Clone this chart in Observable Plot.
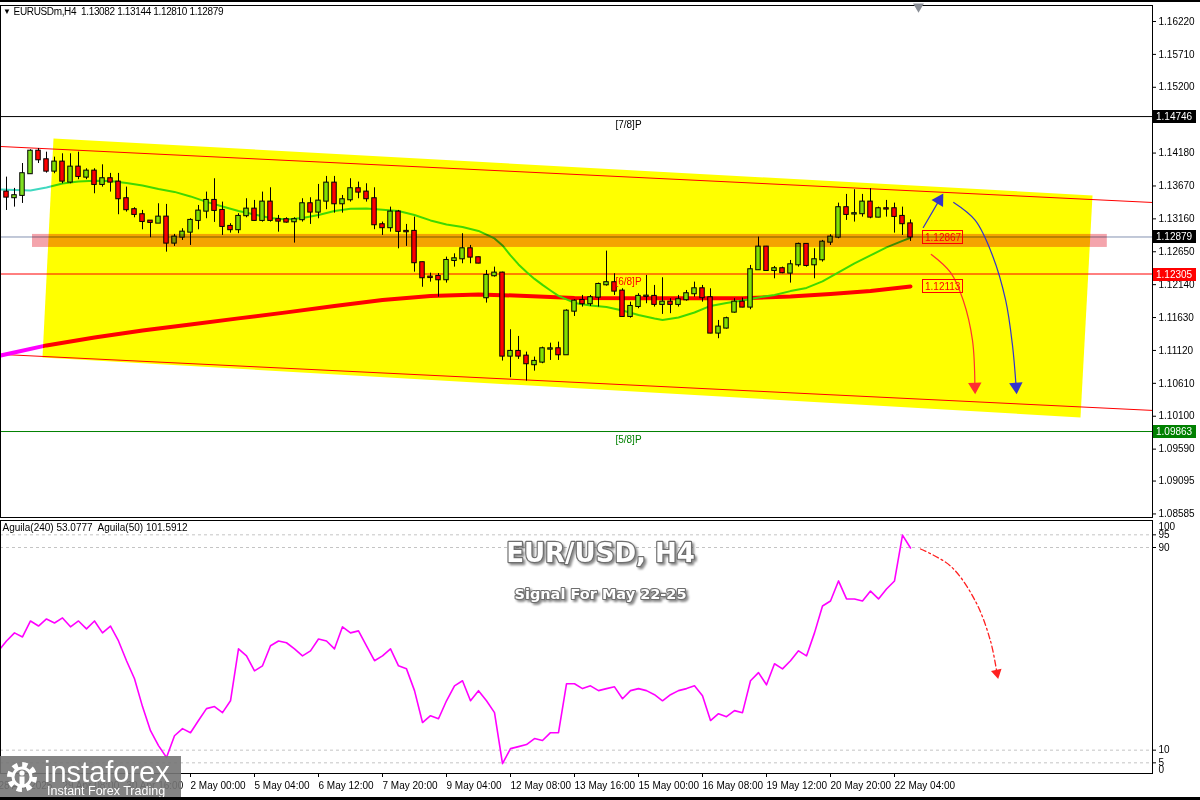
<!DOCTYPE html>
<html>
<head>
<meta charset="utf-8">
<script src="https://cdn.jsdelivr.net/npm/d3@7"></script>
<script src="https://cdn.jsdelivr.net/npm/@observablehq/plot@0.6"></script>
<style>
html,body{margin:0;padding:0;background:#fff;}
#wrap{position:relative;width:1200px;height:800px;overflow:hidden;background:#fff;font-family:"Liberation Sans",Arial,sans-serif;}
#wrap > svg{position:absolute;left:0;overflow:visible;}
#hdr{position:absolute;left:3px;top:6px;font-size:10px;line-height:12px;color:#000;white-space:pre;letter-spacing:-0.35px;z-index:5}
#hdr .tri{font-size:8px;vertical-align:1px;margin-right:3px}
#topbar{position:absolute;left:0;top:0;width:1200px;height:2px;background:#000;z-index:6}
#botbar{position:absolute;left:0;bottom:0;width:1200px;height:3px;background:#000;z-index:8}
#logo{position:absolute;left:0;top:756px;width:181px;height:44px;background:rgba(118,118,118,0.9);z-index:7}
</style>
</head>
<body>
<div id="wrap">
  <div id="topbar"></div>
  <div id="hdr"></div>
  <div id="logo"></div>
  <div id="botbar"></div>
</div>
<script>
// ---------- DATA ----------
const symbol = "EURUSDm,H4";
const open  = [1.13575,1.13488,1.13524,1.13860,1.14209,1.14076,1.13900,1.14040,1.13730,1.13962,1.13807,1.13900,1.13694,1.13782,1.13730,1.13472,1.13302,1.13224,1.13125,1.13094,1.13187,1.12784,1.12877,1.12954,1.13136,1.13280,1.13446,1.13291,1.13043,1.12992,1.13209,1.13311,1.13136,1.13420,1.13147,1.13147,1.13115,1.13147,1.13394,1.13265,1.13435,1.13714,1.13394,1.13456,1.13627,1.13575,1.13472,1.13069,1.13023,1.13265,1.12966,1.12966,1.12480,1.12257,1.12267,1.12216,1.12515,1.12541,1.12696,1.12557,1.11937,1.12278,1.12319,1.11032,1.11105,1.11032,1.10899,1.10939,1.11140,1.11146,1.11053,1.11729,1.11895,1.11844,1.11946,1.12138,1.12170,1.12040,1.11647,1.11802,1.11958,1.11958,1.11834,1.11869,1.11834,1.11906,1.11999,1.12076,1.11937,1.11389,1.11467,1.11714,1.11869,1.11792,1.12371,1.12722,1.12360,1.12387,1.12319,1.12448,1.12764,1.12448,1.12526,1.12799,1.12877,1.13333,1.13235,1.13240,1.13420,1.13187,1.13317,1.13317,1.13198,1.13082];
const high  = [1.13807,1.13632,1.14018,1.14231,1.14251,1.14194,1.14117,1.14169,1.14169,1.14194,1.13937,1.13937,1.13998,1.13865,1.13865,1.13652,1.13333,1.13291,1.13130,1.13394,1.13384,1.12919,1.13007,1.13162,1.13368,1.13575,1.13782,1.13420,1.13085,1.13240,1.13472,1.13446,1.13575,1.13642,1.13213,1.13177,1.13177,1.13472,1.13487,1.13694,1.13818,1.13818,1.13523,1.13782,1.13730,1.13704,1.13642,1.13110,1.13342,1.13291,1.13074,1.13187,1.12490,1.12318,1.12313,1.12567,1.12618,1.12929,1.12748,1.12567,1.12360,1.12412,1.12334,1.11441,1.11337,1.11094,1.11017,1.11171,1.11233,1.11249,1.11750,1.11906,1.11973,1.11973,1.12164,1.12660,1.12309,1.12076,1.11869,1.11999,1.12283,1.12128,1.12247,1.11922,1.11973,1.12050,1.12179,1.12128,1.12076,1.11585,1.11636,1.11922,1.11932,1.12438,1.12877,1.12733,1.12422,1.12412,1.12515,1.12784,1.12774,1.12696,1.12826,1.12914,1.13404,1.13539,1.13611,1.13539,1.13627,1.13342,1.13446,1.13404,1.13342,1.13144];
const low   = [1.13290,1.13342,1.13399,1.13850,1.14018,1.13869,1.13860,1.13704,1.13704,1.13767,1.13767,1.13549,1.13652,1.13575,1.13224,1.13265,1.13177,1.12991,1.12867,1.13090,1.12644,1.12733,1.12826,1.12748,1.12991,1.13162,1.13105,1.12903,1.12939,1.12930,1.13177,1.13125,1.13110,1.13110,1.12954,1.13094,1.12784,1.13110,1.13074,1.13162,1.13302,1.13249,1.13249,1.13420,1.13472,1.13420,1.12992,1.12903,1.12954,1.12696,1.12733,1.12334,1.12100,1.12179,1.11946,1.12164,1.12412,1.12464,1.12464,1.12464,1.11854,1.12257,1.10955,1.10697,1.10981,1.10644,1.10799,1.10914,1.10965,1.10965,1.11053,1.11647,1.11792,1.11803,1.11792,1.12117,1.11973,1.11636,1.11621,1.11767,1.11844,1.11792,1.11679,1.11690,1.11792,1.11884,1.11946,1.11869,1.11379,1.11302,1.11451,1.11699,1.11782,1.11751,1.12360,1.12350,1.12231,1.12309,1.12164,1.12412,1.12412,1.12231,1.12490,1.12748,1.12852,1.13136,1.13110,1.13187,1.13162,1.13177,1.13187,1.12939,1.12903,1.12810];
const close = [1.13497,1.13519,1.13860,1.14209,1.14076,1.13900,1.14040,1.13745,1.13962,1.13818,1.13900,1.13694,1.13782,1.13730,1.13472,1.13302,1.13229,1.13120,1.13105,1.13187,1.12784,1.12877,1.12954,1.13136,1.13280,1.13446,1.13291,1.13043,1.12992,1.13198,1.13311,1.13136,1.13420,1.13136,1.13125,1.13110,1.13147,1.13394,1.13265,1.13435,1.13714,1.13394,1.13456,1.13627,1.13575,1.13472,1.13069,1.13023,1.13265,1.12966,1.12960,1.12480,1.12247,1.12250,1.12216,1.12515,1.12541,1.12696,1.12567,1.12474,1.12283,1.12319,1.11032,1.11105,1.11032,1.10914,1.10950,1.11146,1.11145,1.11053,1.11729,1.11884,1.11844,1.11937,1.12143,1.12170,1.12040,1.11647,1.11802,1.11958,1.11962,1.11834,1.11869,1.11834,1.11906,1.11999,1.12076,1.11937,1.11389,1.11482,1.11612,1.11869,1.11792,1.12371,1.12722,1.12360,1.12387,1.12325,1.12448,1.12764,1.12438,1.12526,1.12799,1.12877,1.13333,1.13229,1.13240,1.13420,1.13187,1.13317,1.13312,1.13198,1.13085,1.12879];

// moving averages: [bar index, price]
const ma20 = [[-1,1.13616],[3,1.13601],[5,1.13647],[7,1.13709],[9,1.13740],[11,1.13751],[13,1.13748],[15,1.13717],[17,1.13678],[19,1.13624],[21,1.13578],[23,1.13508],[25,1.13423],[27,1.13353],[29,1.13283],[31,1.13229],[33,1.13175],[35,1.13151],[37,1.13175],[39,1.13221],[41,1.13283],[43,1.13317],[45,1.13322],[47,1.13302],[49,1.13283],[51,1.13221],[53,1.13136],[55,1.13074],[57,1.13035],[59,1.12973],[61,1.12857],[62,1.12748],[63,1.12593],[64,1.12454],[65,1.12337],[66,1.12229],[67,1.12136],[68,1.12050],[69,1.11965],[71,1.11857],[73,1.11818],[75,1.11795],[77,1.11740],[79,1.11670],[81,1.11616],[82,1.11593],[84,1.11632],[86,1.11709],[88,1.11810],[90,1.11857],[92,1.11895],[94,1.11942],[96,1.11981],[98,1.12040],[100,1.12089],[102,1.12190],[104,1.12329],[106,1.12469],[108,1.12593],[110,1.12717],[112,1.12818],[113,1.12867]];
const ma200 = [[-1,1.11035],[5,1.11198],[11,1.11322],[17,1.11430],[23,1.11523],[29,1.11617],[35,1.11710],[41,1.11810],[47,1.11903],[53,1.11965],[59,1.11988],[65,1.11965],[71,1.11934],[80,1.11931],[92,1.11931],[98,1.11957],[103,1.11996],[108,1.12043],[113,1.12113]];

// Aguila oscillator, bar index -1 .. 113
const aguila = [49.2,53.1,56.3,54.7,61,59,61.8,60.2,62.2,58.7,61,57.9,61,56.3,59,53.1,45.3,38.2,27.2,17.7,11.8,7.1,15.7,18.5,16.9,21.7,26.4,27.2,24.8,29.5,50,47.2,41.3,43.3,51.2,53.1,52.4,50,47.2,49.2,53.9,53.1,50,58.7,56.3,57.1,51.2,45.3,47.2,50,43.3,42.1,33.5,20.9,23.6,22.4,29.5,35.4,37.4,29.5,33.5,29.5,24.8,4.7,10.6,11.4,12.2,14.6,13.8,16.9,16.9,36.2,36.2,34.3,35.4,33.5,34.3,35,30.3,33.5,34.3,33.5,31.9,29.5,31.9,33.5,34.3,35.4,31.5,21.7,24.4,23.2,25.6,24.8,37.4,40.6,35.8,44.1,42.1,45.3,49.2,47.2,56.3,66.9,68.9,76.8,69.7,69.7,68.9,72.8,69.7,73.6,76.8,94.9,89.8];
const aguilaLevels = [5, 10, 90, 95];

// price levels (Murrey)
const levelPrice = [1.14746, 1.12305, 1.09863];
const levelName  = ["[7/8]P", "[6/8]P", "[5/8]P"];
const levelColor = ["#000000", "#ff0000", "#008000"];
const bidPrice = 1.12879;
const maLabelPrice = [1.12867, 1.12113];

// channel (bar index, price)
const channelTop = [[-0.75,1.14282],[143.25,1.13414]];
const channelBot = [[-0.75,1.11059],[143.25,1.10190]];
const channelFill = [[5.875,1.14407],[135.75,1.13523],[134.25,1.10082],[4.5,1.11012]];
const zone = {i1: 3.25, i2: 137.6, p1: 1.12717, p2: 1.12919};

// scenario arrows
const blueUp    = [[114.6,1.13027],[116.6,1.13450]];
const blueDown  = [[118.4,1.13414],[121.1,1.13136],[123.25,1.12593],[124.9,1.11895],[125.75,1.11198],[126.2,1.10560]];
const redDown   = [[115.6,1.12609],[118.0,1.12330],[119.6,1.11895],[120.75,1.11275],[121.05,1.10560]];
const oscArrow  = [[114.25,89.4],[118,82.7],[121.1,68.9],[123,53.1],[123.8,40.5]];

// axis ticks
const priceTicks = [1.16220,1.15710,1.15200,1.14690,1.14180,1.13670,1.13160,1.12650,1.12140,1.11630,1.11120,1.10610,1.10100,1.09590,1.09095,1.08585];
const xTickIdx = [-1,7,15,23,31,39,47,55,63,71,79,87,95,103,111];
const xTickLabel = ["28 Apr 2025","29 Apr 08:00","30 Apr 16:00","2 May 00:00","5 May 04:00","6 May 12:00","7 May 20:00","9 May 04:00","12 May 08:00","13 May 16:00","15 May 00:00","16 May 08:00","19 May 12:00","20 May 20:00","22 May 04:00"];
const headline = "EUR/USD, H4";
const subline = "Signal For May 22-25";

// ---------- BUILD ----------
const F = '"Liberation Sans", Arial, sans-serif';
const fmt5 = d => d.toFixed(5);
const candles = open.map((o, i) => ({i, o, h: high[i], l: low[i], c: close[i]}));
const pts = a => a.map(([i, p]) => ({i, p}));
const levels = levelPrice.map((p, k) => ({p, name: levelName[k], color: levelColor[k]}));
const xDomain = [-0.75, 143.25];
const GREEN = "#80e020", RED = "#ff0000";
const last = candles[candles.length - 1];

document.getElementById("hdr").innerHTML =
  '<span class="tri">\u25BC</span>' + symbol + "  " + [last.o, last.h, last.l, last.c].map(fmt5).join(" ");

const upper = Plot.plot({
  width: 1200, height: 520,
  marginLeft: 0, marginRight: 48, marginTop: 5, marginBottom: 3,
  x: {domain: xDomain, axis: null},
  y: {domain: [1.0853, 1.16468], axis: null},
  style: {background: "transparent", fontFamily: F, fontSize: "10px", color: "#000"},
  marks: [
    Plot.axisY({anchor: "right", ticks: priceTicks, tickFormat: fmt5, tickSize: 3, tickPadding: 3, label: null, fontSize: 10}),
    Plot.ruleY([bidPrice], {stroke: "#8592b2"}),
    Plot.ruleY(levels, {y: "p", stroke: "color"}),
    Plot.line(pts(channelTop), {x: "i", y: "p", stroke: "#ff0000", strokeWidth: 1, clip: true}),
    Plot.line(pts(channelBot), {x: "i", y: "p", stroke: "#ff0000", strokeWidth: 1, clip: true}),
    Plot.line(pts(ma200), {x: "i", y: "p", stroke: "#ff00ff", strokeWidth: 4, clip: true}),
    Plot.line(pts(ma20), {x: "i", y: "p", stroke: "#40d8c0", strokeWidth: 2, clip: true}),
    Plot.ruleX(candles, {x: "i", y1: "l", y2: "h", stroke: "#000", strokeWidth: 1}),
    Plot.rect(candles, {x1: d => d.i - 0.28, x2: d => d.i + 0.28, y1: "o", y2: "c",
      fill: d => d.c >= d.o ? GREEN : RED, stroke: "#000", strokeWidth: 1, insetTop: -0.5, insetBottom: -0.5}),
    Plot.rect([zone], {x1: "i1", x2: "i2", y1: "p1", y2: "p2", fill: "#f4a4ac", mixBlendMode: "multiply"}),
    Plot.line(pts(channelFill), {x: "i", y: "p", fill: "#ffff00", stroke: "none", mixBlendMode: "multiply"}),
    Plot.text(levels, {x: () => 77.75, y: "p", text: "name", fill: "color", dy: 8, fontSize: 10}),
    Plot.frame({stroke: "#000"}),
    Plot.dot([0], {x: () => 114, frameAnchor: "top", dy: 1, symbol: "triangle", rotate: 180, r: 4, fill: "#8a8e96", stroke: "none"}),
    Plot.line(pts(blueUp), {x: "i", y: "p", stroke: "#3333cc", strokeWidth: 1.2}),
    Plot.dot([blueUp[1]], {x: d => d[0], y: d => d[1], symbol: "triangle", rotate: 31, r: 5, fill: "#3333cc", stroke: "none"}),
    Plot.line(pts(blueDown), {x: "i", y: "p", stroke: "#3333cc", strokeWidth: 1.2, curve: "catmull-rom"}),
    Plot.dot([blueDown[blueDown.length - 1]], {x: d => d[0], y: d => d[1], symbol: "triangle", rotate: 176, r: 5, fill: "#3333cc", stroke: "none"}),
    Plot.line(pts(redDown), {x: "i", y: "p", stroke: "#ff3030", strokeWidth: 1.2, curve: "catmull-rom"}),
    Plot.dot([redDown[redDown.length - 1]], {x: d => d[0], y: d => d[1], symbol: "triangle", rotate: 178, r: 5, fill: "#ff3030", stroke: "none"})
  ]
});
upper.style.top = "0px";

const lower = Plot.plot({
  width: 1200, height: 282,
  marginLeft: 0, marginRight: 48, marginTop: 2, marginBottom: 27,
  x: {domain: xDomain, axis: null},
  y: {domain: [0.79, 100.66], axis: null},
  style: {background: "transparent", fontFamily: F, fontSize: "10px", color: "#000"},
  marks: [
    Plot.ruleY(aguilaLevels, {stroke: "#c4c4c4", strokeDasharray: "3,3"}),
    Plot.axisY({anchor: "right", ticks: aguilaLevels, tickSize: 3, tickPadding: 3, label: null, fontSize: 10}),
    Plot.text(["100"], {frameAnchor: "top-right", dx: 6, dy: 2, textAnchor: "start", lineAnchor: "top", fontSize: 10}),
    Plot.text(["0"], {frameAnchor: "bottom-right", dx: 6, dy: -1, textAnchor: "start", lineAnchor: "bottom", fontSize: 10}),
    Plot.axisX({anchor: "bottom", ticks: xTickIdx, tickFormat: d => xTickLabel[xTickIdx.indexOf(d)], tickSize: 4, tickPadding: 4, textAnchor: "start", label: null, fontSize: 10}),
    Plot.line(aguila.map((v, k) => ({i: k - 1, v})), {x: "i", y: "v", stroke: "#ff00ff", strokeWidth: 1.6, clip: true}),
    Plot.line(oscArrow.map(([i, v]) => ({i, v})), {x: "i", y: "v", stroke: "#ff2020", strokeWidth: 1.3, strokeDasharray: "6,3,2,3", curve: "catmull-rom"}),
    Plot.dot([oscArrow[oscArrow.length - 1]], {x: d => d[0], y: d => d[1], symbol: "triangle", rotate: 168, r: 4, fill: "#ff2020", stroke: "none"}),
    Plot.text(["Aguila(240) 53.0777  Aguila(50) 101.5912"], {frameAnchor: "top-left", dx: 2, dy: 3, textAnchor: "start", lineAnchor: "top", fontSize: 10}),
    Plot.text([headline], {frameAnchor: "top", dx: 24, dy: 23, lineAnchor: "top", fontSize: 26, fontWeight: "bold", fontFamily: "DejaVu Sans", fill: "#ffffff", stroke: "#6e6e6e", strokeWidth: 2.4, paintOrder: "stroke"}),
    Plot.text([subline], {frameAnchor: "top", dx: 24, dy: 68.5, lineAnchor: "top", fontSize: 14.5, fontWeight: "bold", fontFamily: "DejaVu Sans", fill: "#ffffff", stroke: "#6e6e6e", strokeWidth: 2.2, paintOrder: "stroke"}),
    Plot.frame({stroke: "#000"})
  ]
});
lower.style.top = "518px";
d3.select(lower).selectAll("text")
  .filter(function() { return this.textContent === headline || this.textContent === subline; })
  .style("filter", "drop-shadow(2px 2px 1.2px rgba(0,0,0,0.45))");

const wrap = document.getElementById("wrap");
wrap.insertBefore(lower, document.getElementById("logo"));
wrap.insertBefore(upper, lower);

// price tags on the axis and on the moving averages
const yU = upper.scale("y"), xU = upper.scale("x");
const gU = d3.select(upper).append("g").attr("font-family", F).attr("font-size", 10).attr("text-anchor", "start");
const tags = [{p: levelPrice[0], bg: "#000"}, {p: bidPrice, bg: "#000"}, {p: levelPrice[1], bg: "#ff0000"}, {p: levelPrice[2], bg: "#008000"}];
tags.forEach(t => {
  const y = Math.round(yU.apply(t.p));
  gU.append("rect").attr("x", 1153).attr("y", y - 6).attr("width", 43).attr("height", 13).attr("fill", t.bg);
  gU.append("text").attr("x", 1156).attr("y", y + 4).attr("fill", "#fff").text(fmt5(t.p));
});
maLabelPrice.forEach(p => {
  const y = Math.round(yU.apply(p));
  const x = Math.round(xU.apply(113)) + 12;
  gU.append("rect").attr("x", x + 0.5).attr("y", y - 6.5).attr("width", 40).attr("height", 13).attr("fill", "none").attr("stroke", "#ff0000");
  gU.append("text").attr("x", x + 3).attr("y", y + 4).attr("fill", "#ff0000").text(fmt5(p));
});

// logo
const logo = d3.select("#logo").append("svg").attr("width", 181).attr("height", 44);
const gear = logo.append("g").attr("transform", "translate(22,21)");
gear.append("circle").attr("r", 12).attr("fill", "none").attr("stroke", "#fff").attr("stroke-width", 6).attr("stroke-dasharray", "5,4.4");
gear.append("circle").attr("r", 9).attr("fill", "none").attr("stroke", "#fff").attr("stroke-width", 3);
gear.append("circle").attr("cy", -4).attr("r", 2.6).attr("fill", "#fff");
gear.append("rect").attr("x", -2.5).attr("y", -0.5).attr("width", 5).attr("height", 11).attr("fill", "#fff");
logo.append("text").attr("x", 44).attr("y", 26).attr("fill", "#fff").attr("font-family", F).attr("font-size", 29).text("instaforex");
logo.append("text").attr("x", 47).attr("y", 39).attr("fill", "#fff").attr("font-family", F).attr("font-size", 12.5).text("Instant Forex Trading");
</script>
</body>
</html>
